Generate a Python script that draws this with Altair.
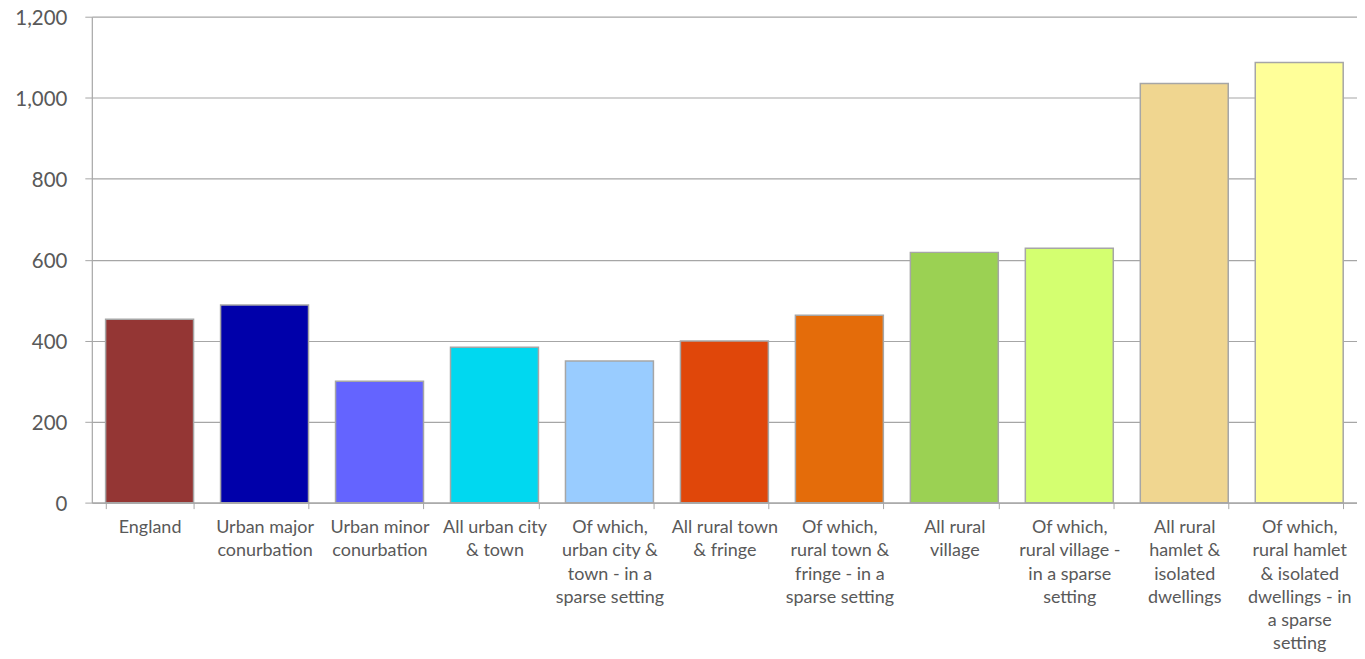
import altair as alt
import pandas as pd

categories = [
    "England",
    "Urban major|conurbation",
    "Urban minor|conurbation",
    "All urban city|& town",
    "Of which,|urban city &|town - in a|sparse setting",
    "All rural town|& fringe",
    "Of which,|rural town &|fringe - in a|sparse setting",
    "All rural|village",
    "Of which,|rural village -|in a sparse|setting",
    "All rural|hamlet &|isolated|dwellings",
    "Of which,|rural hamlet|& isolated|dwellings - in|a sparse|setting",
]
values = [453, 488, 300, 384, 350, 399, 463, 618, 628, 1035, 1087]
colors = ["#943634", "#0000AA", "#6464FF", "#00D8F0", "#99CCFF", "#E0470A",
          "#E46C0A", "#9BD153", "#D4FF70", "#F0D690", "#FFFF99"]
y_ticks = [0, 200, 400, 600, 800, 1000, 1200]

df = pd.DataFrame({"cat": categories, "val": values, "col": colors})

chart = alt.Chart(df).mark_bar(stroke="#A6A6A6", strokeWidth=1.5).encode(
    x=alt.X("cat:N", sort=categories, title=None,
            scale=alt.Scale(paddingInner=0.235, paddingOuter=0.12),
            axis=alt.Axis(labelExpr="split(datum.label, '|')", labelAngle=0,
                          labelFont="Lato", labelFontSize=18, labelColor="#595959",
                          labelLineHeight=23.3, labelPadding=10, tickBand="extent",
                          tickSize=6, tickColor="#A6A6A6", domainColor="#A6A6A6",
                          domainWidth=1.2, labelLimit=200)),
    y=alt.Y("val:Q", title=None,
            scale=alt.Scale(domain=[0, 1200], nice=False),
            axis=alt.Axis(values=y_ticks, format=",.0f",
                          labelFont="Lato", labelFontSize=20.5, labelColor="#595959",
                          labelOffset=1.5,
                          tickSize=7, tickColor="#A6A6A6", domainColor="#A6A6A6",
                          gridColor="#A6A6A6", gridWidth=1.2, labelPadding=18,
                          domainWidth=1.2)),
    color=alt.Color("col:N", scale=None),
).properties(
    width=1268, height=487,
    autosize=alt.AutoSizeParams(type="none"),
    padding={"left": 84, "top": 8, "right": 0, "bottom": 156},
).configure_view(stroke=None)

chart.save("out.html", embed_options={"renderer": "svg", "actions": False})
